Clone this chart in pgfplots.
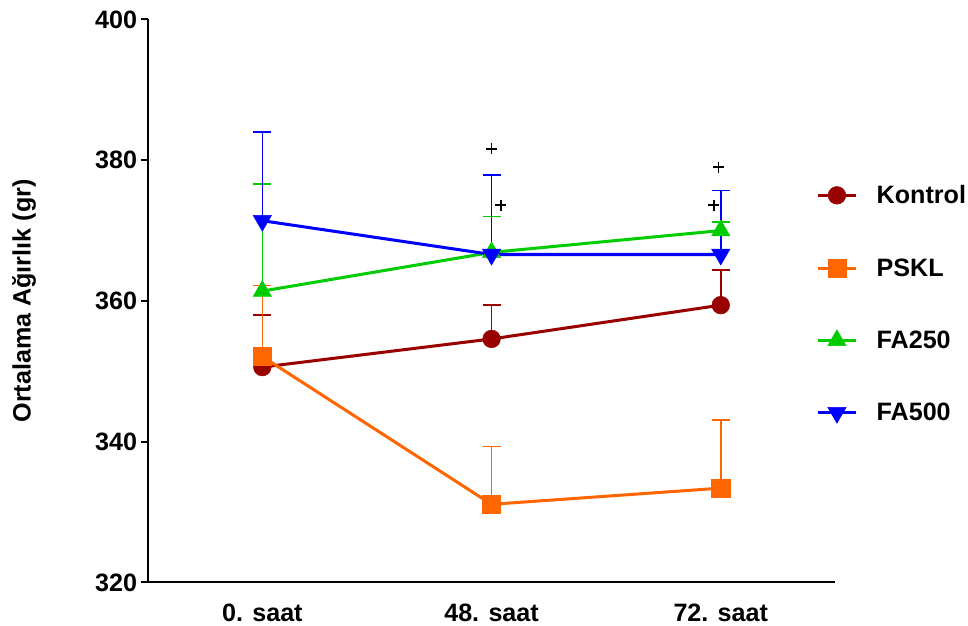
\documentclass[border=0pt]{standalone}
\usepackage{fontspec}
\setmainfont{Liberation Sans}
\usepackage{pgfplots}
\pgfplotsset{compat=1.18}
\definecolor{cK}{HTML}{990000}
\definecolor{cP}{HTML}{FF6600}
\definecolor{cG}{HTML}{00CC00}
\definecolor{cB}{HTML}{0000FF}
\newcommand{\bigf}{\fontsize{25}{30}\selectfont\bfseries}
\pgfplotsset{eb/.style={error bars/y dir=plus, error bars/y explicit,
  error bars/error bar style={line width=1.5pt, solid},
  error bars/error mark options={rotate=90, line width=1.5pt, mark size=9pt, solid}}}
\begin{document}
\begin{tikzpicture}
\begin{axis}[
  scale only axis, width=684pt, height=560pt,
  xmin=-0.5, xmax=2.5, ymin=320, ymax=400,
  axis x line*=bottom, axis y line*=left,
  axis line style={line width=2pt, -, black},
  xtick={0,1,2}, xticklabels={0. saat,48. saat,72. saat},
  x tick style={draw=none},
  xticklabel style={yshift=-10pt, inner ysep=4pt},
  ytick={320,340,360,380,400},
  yticklabel style={inner ysep=10.5pt},
  y tick style={line width=2pt, black},
  tick align=outside, major tick length=7pt,
  minor tick num=0,
  tick label style={font=\bigf},
  /pgf/number format/assume math mode=true,
  ylabel={Ortalama Ağırlık (gr)},
  ylabel style={font=\bigf, at={(axis description cs:-0.18,0.5)}, anchor=center, inner sep=12pt},
  legend style={draw=none, fill=none, at={(rel axis cs:0.972,0.709)}, anchor=north west,
    font=\bigf, row sep=49pt, inner sep=0pt,
    /tikz/every odd column/.append style={column sep=17pt},
    nodes={inner xsep=2pt}},
  legend cell align=left,
  legend image code/.code={\draw[mark repeat=2,mark phase=2] plot coordinates {(0pt,0pt) (19pt,0pt) (38pt,0pt)};},
  clip=false,
]
\addplot[cK, line width=3pt, mark=*, mark size=8.8pt, mark options={solid, line width=0.5pt, fill=cK}, eb]
  coordinates {(0,350.6) +- (0,7.4) (1,354.6) +- (0,4.8) (2,359.4) +- (0,5.0)};
\addlegendentry{Kontrol}
\addplot[cP, line width=3pt, mark=square*, mark size=9pt, mark options={solid, line width=0.5pt, fill=cP}, eb]
  coordinates {(0,352.1) +- (0,10.1) (1,331.1) +- (0,8.2) (2,333.4) +- (0,9.7)};
\addlegendentry{PSKL}
\addplot[cG, line width=3pt, mark=triangle*, mark size=10.5pt, mark options={solid, line width=0.5pt, fill=cG}, eb]
  coordinates {(0,361.4) +- (0,15.2) (1,366.9) +- (0,5.1) (2,370.0) +- (0,1.2)};
\addlegendentry{FA250}
\addplot[cB, line width=3pt, mark=triangle*, mark size=10.5pt, mark options={solid, line width=0.5pt, fill=cB, rotate=180}, eb]
  coordinates {(0,371.4) +- (0,12.6) (1,366.6) +- (0,11.3) (2,366.6) +- (0,9.1)};
\addlegendentry{FA500}
\addplot[only marks, mark=+, mark size=5.5pt, black, line width=1.8pt, forget plot]
  coordinates {(1,381.6) (1.04,373.6) (1.99,379.0) (1.97,373.6)};
\end{axis}
\end{tikzpicture}
\end{document}
